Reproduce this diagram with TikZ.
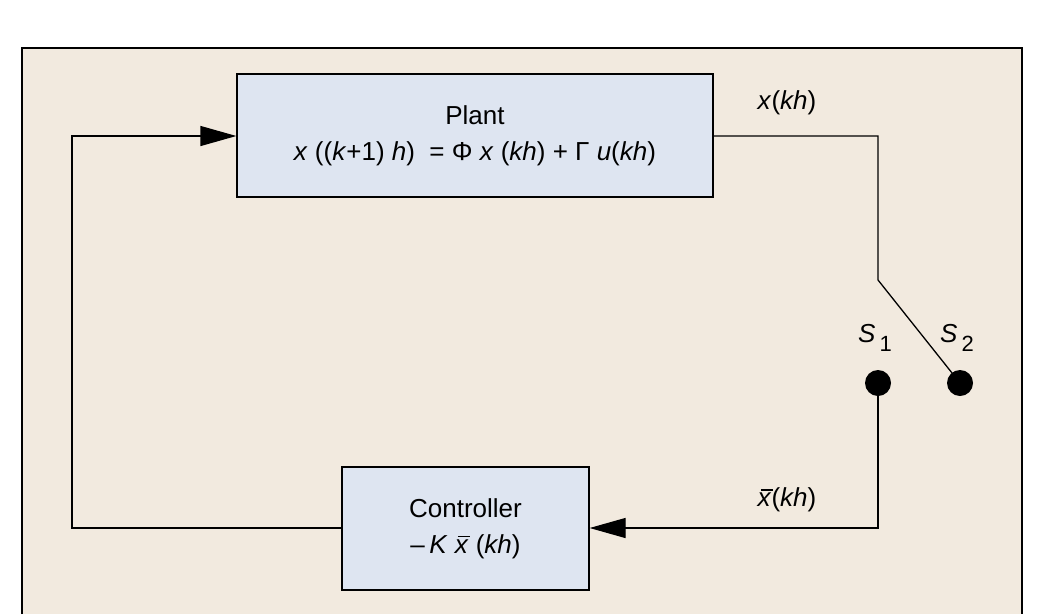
\documentclass[tikz,border=0pt]{standalone}
\usepackage{fontspec}
\setmainfont{Liberation Sans}
\usetikzlibrary{arrows.meta}
\definecolor{bg}{HTML}{F2EADF}
\definecolor{boxc}{HTML}{DEE5F1}
\newcommand{\xbar}{\leavevmode\rlap{\raisebox{0.62em}{\hspace{0.12em}\rule{0.45em}{1.2pt}}}\textit{x}}
\newcommand{\subtxt}[1]{\raisebox{-0.35em}{\fontsize{22}{24}\selectfont #1}}
\tikzset{blk/.style={draw=black,line width=1.3pt,fill=boxc,inner sep=0pt},
 wire/.style={line width=1.3pt},
 arr/.style={wire,-{Triangle[length=36pt,width=20pt]}},
 lab/.style={font=\fontsize{26}{36}\selectfont},
 dot/.style={circle,fill=black,minimum size=26pt,inner sep=0pt}}
\begin{document}
\begin{tikzpicture}[x=1pt,y=-1pt]
\useasboundingbox (0,0) rectangle (1042,614);
\fill[bg] (22,48) rectangle (1022,614);
\draw[line width=1.5pt] (22,614) -- (22,48) -- (1022,48) -- (1022,614);
\node[blk,minimum width=476pt,minimum height=123pt,align=center,lab] (plant) at (475,135.5)
 {Plant\\ \textit{x} ((\textit{k}+1) \textit{h})\; = Φ \textit{x} (\textit{kh}) + Γ \textit{u}(\textit{kh})};
\node[blk,minimum width=247pt,minimum height=123pt,align=center,lab] (ctrl) at (465.5,528.5)
 {Controller\\ –\,\textit{K} \xbar\ (\textit{kh})};
\node[dot] (s1) at (878,383) {};
\node[dot] (s2) at (960,383) {};
\coordinate (tr) at (878,136);
\coordinate (sw) at (878,280);
\coordinate (br) at (878,528);
\coordinate (bl) at (72,528);
\coordinate (tl) at (72,136);
\draw[wire] (plant.east |- tr) -- (tr) -- (sw) -- (s2.center);
\draw[arr] (s1.center) -- (br) -- (ctrl.east |- br);
\draw[arr] (ctrl.west |- bl) -- (bl) -- (tl) -- (plant.west |- tl);
\node[lab] (xl) at (787,103) {\textit{x}(\textit{kh})};
\node[lab] (xb) at (787,500) {\xbar(\textit{kh})};
\node[lab] (l1) at (875,338) {\textit{S}\,\subtxt{1}};
\node[lab] (l2) at (957,338) {\textit{S}\,\subtxt{2}};
\end{tikzpicture}
\end{document}
